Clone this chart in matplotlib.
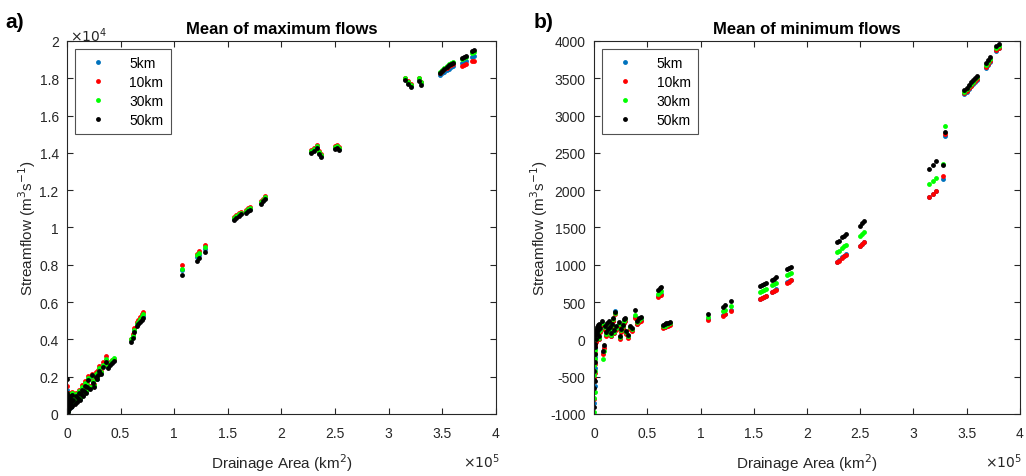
import matplotlib
matplotlib.use("Agg")
import matplotlib.pyplot as plt
import numpy as np
from matplotlib.ticker import FuncFormatter

plt.rcParams['font.family'] = ['Liberation Sans', 'DejaVu Sans']
plt.rcParams['axes.unicode_minus'] = False

# drainage area (km2), small basins then large basins
area_small = [100, 200, 400, 600,
              300, 500, 700, 900, 1100, 1300, 1500, 1800, 2000, 2500, 3000, 3500, 4000, 4500, 5000,
              6000, 7000, 8000, 9000, 10000, 11000, 12000, 13000, 14000, 15000, 16000, 17000, 18000,
              19000, 20000, 21000, 23000, 24000, 25000, 27000, 28000, 29000, 30000, 32000, 34000,
              36000, 38000, 40000, 42000, 44000]
area_large = [60000, 61500, 62500, 65000, 66500, 68000, 69500, 71000, 107000, 121000, 123000, 129000,
              156000, 158000, 160000, 162000, 167000, 169000, 171000, 181000, 183000, 185000,
              228000, 230000, 233000, 235000, 237000, 250000, 252000, 254000,
              315000, 318000, 321000, 328000, 330000,
              348000, 350000, 352000, 354000, 356000, 358000, 360000, 368000, 370000, 372000, 378000, 380000]

# mean of maximum flows (m3/s)
qmax_small = {
    '5km': [500, 300, 900, 150,
            1300, 600, 300, 800, 200, 500, 1000, 700, 300, 600, 900, 400, 700, 1100, 500, 800, 600, 1000,
            700, 900, 1200, 800, 1100, 1400, 1000, 1300, 1600, 1200, 1500, 1900, 1400, 2000, 1700, 1500,
            2100, 1900, 2200, 2400, 2200, 2600, 2900, 2500, 2700, 2800, 2900],
    '10km': [600, 350, 1000, 200,
             1500, 800, 400, 900, 250, 600, 1100, 800, 350, 700, 1000, 500, 800, 1200, 600, 900, 700, 1100,
             800, 1000, 1300, 900, 1200, 1550, 1100, 1400, 1750, 1300, 1600, 2050, 1500, 2150, 1800, 1600,
             2250, 2000, 2350, 2550, 2300, 2800, 3100, 2600, 2800, 2900, 2950],
    '30km': [450, 300, 950, 150,
             1000, 700, 350, 850, 200, 550, 1050, 750, 300, 650, 950, 450, 750, 1150, 550, 850, 650, 1050,
             750, 950, 1250, 850, 1150, 1450, 1050, 1350, 1650, 1250, 1550, 1950, 1450, 2050, 1750, 1550,
             2150, 1950, 2250, 2450, 2250, 2650, 2950, 2550, 2750, 2900, 3000],
    '50km': [700, 400, 1100, 100,
             1900, 900, 300, 700, 200, 450, 950, 650, 250, 550, 850, 350, 650, 1000, 450, 750, 550, 950,
             650, 850, 1150, 750, 1050, 1300, 950, 1250, 1500, 1150, 1450, 1800, 1350, 2100, 1650, 1450,
             2000, 1850, 2100, 2300, 2150, 2500, 2800, 2450, 2650, 2750, 2850],
}
qmax_large = {
    '5km': [3950, 4200, 4500, 4800, 4900, 5000, 5150, 5250, 7700, 8400, 8550, 8850,
            10450, 10550, 10650, 10750, 10850, 10950, 11000, 11300, 11450, 11600,
            14050, 14150, 14300, 14000, 13850, 14250, 14300, 14200,
            17950, 17750, 17600, 17950, 17750,
            18200, 18300, 18350, 18450, 18500, 18600, 18650, 18800, 18850, 18900, 19150, 19200],
    '10km': [4000, 4300, 4600, 4950, 5050, 5200, 5350, 5450, 8000, 8600, 8750, 9050,
             10550, 10650, 10750, 10850, 10950, 11050, 11100, 11400, 11550, 11700,
             14150, 14250, 14400, 14100, 13950, 14350, 14400, 14300,
             18000, 17850, 17700, 18000, 17800,
             18300, 18400, 18500, 18550, 18650, 18700, 18750, 18650, 18700, 18750, 18900, 18950],
    '30km': [4000, 4200, 4500, 4850, 4950, 5100, 5250, 5350, 7800, 8500, 8650, 8950,
             10500, 10600, 10700, 10800, 10900, 11000, 11050, 11350, 11500, 11650,
             14100, 14200, 14350, 14050, 13900, 14300, 14350, 14250,
             18000, 17800, 17650, 18000, 17800,
             18350, 18450, 18550, 18650, 18750, 18800, 18850, 19050, 19100, 19150, 19350, 19400],
    '50km': [3850, 4100, 4400, 4700, 4800, 4950, 5050, 5150, 7450, 8200, 8350, 8700,
             10400, 10500, 10600, 10700, 10800, 10900, 10950, 11250, 11400, 11550,
             14000, 14100, 14250, 13950, 13800, 14200, 14250, 14150,
             17900, 17700, 17550, 17850, 17650,
             18300, 18400, 18500, 18600, 18700, 18750, 18800, 19100, 19150, 19200, 19450, 19500],
}

# mean of minimum flows (m3/s)
qmin_small = {
    '5km': [-700, -300, -160, -50,
            -850, -620, -380, -230, -120, 20, 60, 90, -20, 120, 40, 150, 80, 10, 170, 110, 200, -180, -100,
            140, 60, 180, 100, 210, 130, 50, 170, 250, 90, 375, 140, 190, 20, 110, 160, 230, 250, 80, 30,
            150, 120, 300, 210, 240, 260],
    '10km': [-520, -250, -60, -20,
             -800, -450, -330, -180, -90, 10, 50, 80, -30, 110, 30, 140, 70, 0, 160, 100, 190, -200, -120,
             130, 50, 170, 90, 200, 120, 40, 160, 240, 80, 340, 130, 180, 10, 100, 150, 220, 240, 70, 20,
             140, 110, 290, 200, 230, 250],
    '30km': [-780, -480, -350, -200,
             -970, -700, -430, -260, -140, 40, 80, 110, 0, 140, 60, 170, 100, 25, 190, 130, 220, -260, -160,
             160, 75, 200, 115, 230, 145, 65, 190, 270, 105, 360, 155, 210, 30, 125, 175, 250, 270, 95, 45,
             165, 135, 330, 230, 260, 280],
    '50km': [-650, -420, -550, -100,
             -900, -560, -300, -200, -60, 60, 100, 130, 10, 160, 80, 190, 120, 45, 210, 150, 240, -150, -70,
             180, 95, 220, 135, 250, 165, 85, 210, 290, 125, 365, 175, 230, 50, 145, 195, 270, 290, 115, 65,
             185, 155, 400, 250, 280, 300],
}
qmin_large = {
    '5km': [580, 600, 615, 160, 170, 180, 190, 200, 270, 330, 345, 390,
            540, 555, 570, 585, 640, 655, 670, 765, 780, 795,
            1040, 1060, 1100, 1120, 1140, 1255, 1280, 1310,
            1910, 1950, 1990, 2150, 2730,
            3290, 3320, 3360, 3390, 3420, 3450, 3480, 3640, 3680, 3720, 3870, 3900],
    '10km': [570, 590, 600, 155, 165, 175, 185, 195, 265, 320, 335, 380,
             535, 550, 565, 580, 635, 650, 665, 760, 775, 790,
             1035, 1055, 1095, 1115, 1135, 1250, 1275, 1305,
             1905, 1945, 1985, 2195, 2750,
             3300, 3330, 3370, 3400, 3430, 3460, 3490, 3650, 3690, 3730, 3880, 3910],
    '30km': [610, 630, 645, 175, 185, 195, 205, 215, 300, 380, 395, 450,
             630, 645, 660, 675, 725, 740, 755, 860, 875, 890,
             1170, 1190, 1225, 1250, 1270, 1390, 1415, 1440,
             2085, 2120, 2160, 2350, 2865,
             3320, 3350, 3390, 3420, 3455, 3485, 3515, 3680, 3720, 3760, 3900, 3930],
    '50km': [660, 690, 705, 195, 205, 215, 225, 235, 335, 440, 455, 515,
             715, 730, 745, 760, 800, 815, 830, 945, 960, 975,
             1300, 1320, 1370, 1390, 1410, 1520, 1555, 1585,
             2290, 2340, 2390, 2340, 2780,
             3340, 3370, 3410, 3445, 3475, 3505, 3535, 3710, 3750, 3790, 3930, 3955],
}

resolutions = ['5km', '10km', '30km', '50km']
colors = {'5km': '#0072BD', '10km': '#FF0000', '30km': '#00FF00', '50km': '#000000'}

area = np.array(area_small + area_large) / 1e5
fmt = FuncFormatter(lambda v, p: '%g' % round(v, 6))
axcol = '#262626'

fig = plt.figure(figsize=(10.26, 4.77), dpi=100)
ax1 = fig.add_axes([0.0653, 0.130, 0.418, 0.782])
ax2 = fig.add_axes([0.579, 0.130, 0.415, 0.782])

for r in resolutions:
    ax1.plot(area, np.array(qmax_small[r] + qmax_large[r]) / 1e4, 'o', ms=3.5, mew=0,
             color=colors[r], label=r)
    ax2.plot(area, np.array(qmin_small[r] + qmin_large[r]), 'o', ms=3.5, mew=0,
             color=colors[r], label=r)

ax1.set_ylim(0, 2)
ax1.set_yticks(np.arange(0, 2.01, 0.2))
ax2.set_ylim(-1000, 4000)
ax2.set_yticks(np.arange(-1000, 4001, 500))

for ax, title, lp in [(ax1, 'Mean of maximum flows', 1), (ax2, 'Mean of minimum flows', 0)]:
    ax.set_xlim(0, 4)
    ax.set_xticks(np.arange(0, 4.01, 0.5))
    ax.xaxis.set_major_formatter(fmt)
    ax.yaxis.set_major_formatter(fmt)
    ax.tick_params(direction='in', top=True, right=True, length=4, width=0.8,
                   labelsize=10, colors=axcol, pad=6)
    ax.tick_params(axis='x', pad=9)
    for s in ax.spines.values():
        s.set_color(axcol)
        s.set_linewidth(0.8)
    ax.set_title(title, fontsize=12, fontweight='bold', pad=6)
    ax.set_xlabel('Drainage Area (km$^2$)', fontsize=11, color=axcol, labelpad=8)
    ax.set_ylabel('Streamflow (m$^3$s$^{-1}$)', fontsize=11, color=axcol, labelpad=lp)
    leg = ax.legend(loc='upper left', fancybox=False, edgecolor=axcol, fontsize=10,
                    handletextpad=1.2, borderpad=0.5, labelspacing=0.35, markerscale=1.0,
                    handlelength=2.2, borderaxespad=0.6)
    leg.get_frame().set_linewidth(0.8)

fig.text(0.068, 0.925, r'$\times10^4$', fontsize=10, color=axcol, va='center')
fig.text(0.487, 0.032, r'$\times10^5$', fontsize=10, color=axcol, ha='right', va='center')
fig.text(0.996, 0.032, r'$\times10^5$', fontsize=10, color=axcol, ha='right', va='center')
fig.text(0.005, 0.972, 'a)', fontsize=15, fontweight='bold', va='top')
fig.text(0.520, 0.972, 'b)', fontsize=15, fontweight='bold', va='top')

fig.savefig('out.png', dpi=100)
